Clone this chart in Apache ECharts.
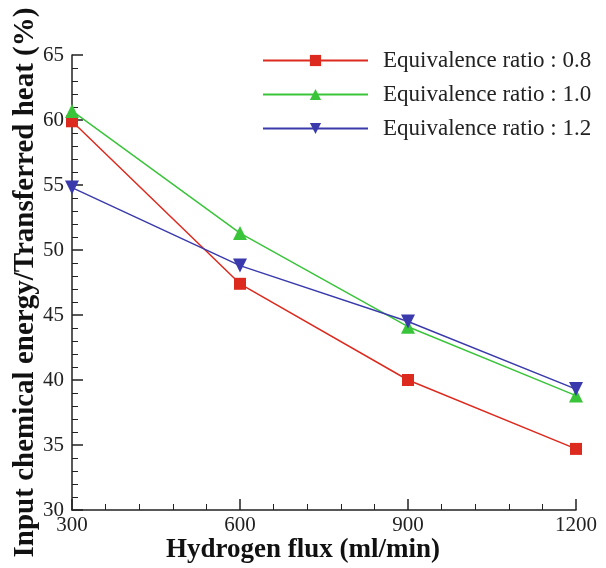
<!DOCTYPE html>
<html><head><meta charset="utf-8">
<script src="https://cdn.jsdelivr.net/npm/echarts@6/dist/echarts.min.js"></script>
<style>html,body{margin:0;padding:0;background:#fff}#c{width:606px;height:568px}</style>
</head><body><div id="c"></div>
<script>
const xValues = [300, 600, 900, 1200];
const seriesNames = ['Equivalence ratio : 0.8', 'Equivalence ratio : 1.0', 'Equivalence ratio : 1.2'];
const ratio08 = [59.9, 47.4, 40.0, 34.7];
const ratio10 = [60.7, 51.3, 44.1, 38.8];
const ratio12 = [54.8, 48.8, 44.5, 39.3];
const xTicks = [300, 600, 900, 1200];
const yTicks = [30, 35, 40, 45, 50, 55, 60, 65];

const font = 'Liberation Serif, Times New Roman, serif';
const chart = echarts.init(document.getElementById('c'));
function mk(name, vals, color, symbol, size, rot) {
  return {
    name, type: 'line', data: xValues.map((x, i) => [x, vals[i]]),
    symbol, symbolSize: size, symbolRotate: rot || 0,
    lineStyle: { color, width: 1.5 }, itemStyle: { color },
    emphasis: { disabled: true }, animation: false
  };
}
chart.setOption({
  animation: false,
  grid: { left: 72, right: 30, top: 55, bottom: 58, outerBoundsMode: 'none', containLabel: false },
  legend: {
    left: 257, top: 44, orient: 'vertical', itemWidth: 105, itemHeight: 14, itemGap: 11,
    textStyle: { fontFamily: font, fontSize: 23, color: '#222', padding: [0, 0, 0, 10] },
    data: seriesNames
  },
  xAxis: {
    type: 'value', min: 300, max: 1200, interval: 300,
    name: 'Hydrogen flux (ml/min)', nameLocation: 'middle', nameGap: 27, nameMoveOverlap: false,
    nameTextStyle: { fontFamily: font, fontSize: 27, fontWeight: 'bold', color: '#111', padding: [0, 42, 0, 0] },
    axisLine: { lineStyle: { color: '#222', width: 1.5 } },
    axisTick: { inside: true, length: 11, lineStyle: { color: '#222', width: 1.5 } },
    minorTick: { show: true, splitNumber: 5, length: 6, lineStyle: { color: '#222' } },
    splitLine: { show: false },
    axisLabel: { fontFamily: font, fontSize: 21, color: '#222', margin: 5,
      formatter: v => xTicks.includes(v) ? String(v) : '' }
  },
  yAxis: {
    type: 'value', min: 30, max: 65, interval: 5,
    name: 'Input chemical energy/Transferred heat (%)', nameLocation: 'middle', nameGap: 32, nameRotate: 90, nameMoveOverlap: false,
    nameTextStyle: { fontFamily: font, fontSize: 29, fontWeight: 'bold', color: '#111' },
    axisLine: { show: true, lineStyle: { color: '#222', width: 1.5 } },
    axisTick: { show: true, inside: true, length: 11, lineStyle: { color: '#222', width: 1.5 } },
    minorTick: { show: true, splitNumber: 5, length: 6, lineStyle: { color: '#222' } },
    splitLine: { show: false },
    axisLabel: { fontFamily: font, fontSize: 21, color: '#222', margin: 8,
      formatter: v => yTicks.includes(v) ? String(v) : '' }
  },
  series: [
    mk(seriesNames[0], ratio08, '#dd2a1e', 'rect', 12),
    mk(seriesNames[1], ratio10, '#3ac43a', 'triangle', 14),
    mk(seriesNames[2], ratio12, '#3a3aac', 'triangle', 14, 180)
  ]
});
</script></body></html>
